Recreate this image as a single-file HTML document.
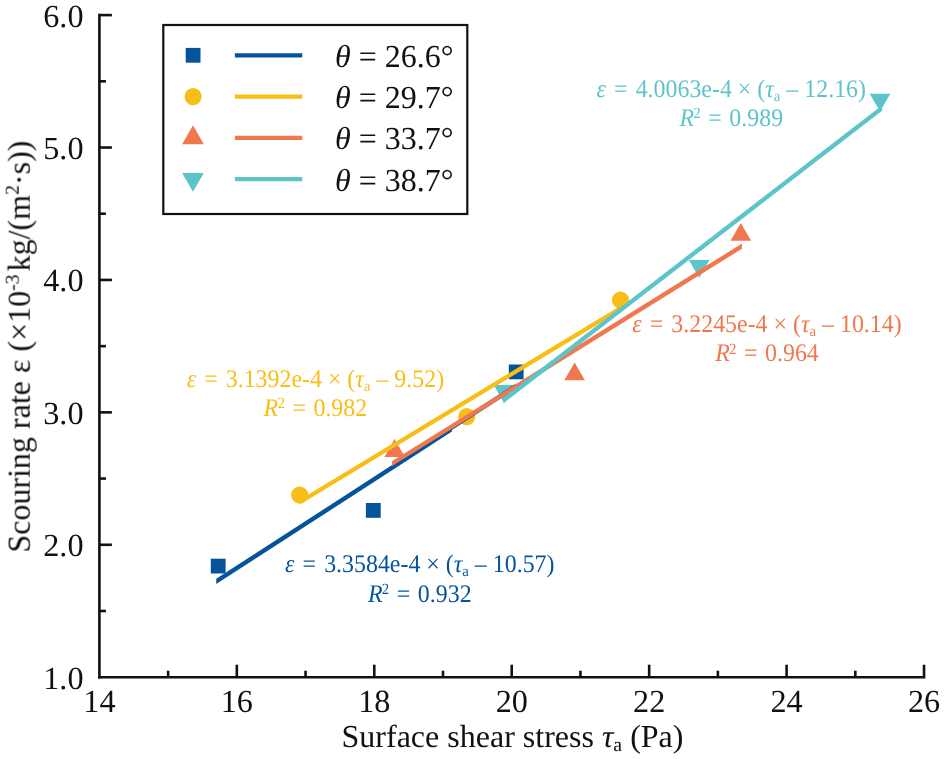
<!DOCTYPE html>
<html><head><meta charset="utf-8"><title>Scouring rate vs surface shear stress</title>
<style>html,body{margin:0;padding:0;background:#fff}svg{display:block}text{font-family:"Liberation Serif",serif;text-rendering:geometricPrecision}.i{font-style:italic}</style></head><body>
<svg width="944" height="759" viewBox="0 0 944 759">
<rect width="944" height="759" fill="#fff"/>
<g style="will-change:transform">
<g stroke="#111" stroke-width="2.6" fill="none" stroke-linecap="butt">
<path d="M99.40 13.80V678.50"/>
<path d="M98.10 677.20H925.34"/>
<path d="M99.40 610.99h6.5"/>
<path d="M99.40 544.78h12.5"/>
<path d="M99.40 478.57h6.5"/>
<path d="M99.40 412.36h12.5"/>
<path d="M99.40 346.15h6.5"/>
<path d="M99.40 279.94h12.5"/>
<path d="M99.40 213.73h6.5"/>
<path d="M99.40 147.52h12.5"/>
<path d="M99.40 81.31h6.5"/>
<path d="M99.40 15.10h12.5"/>
<path d="M168.12 677.20v-6.5"/>
<path d="M236.84 677.20v-12.5"/>
<path d="M305.56 677.20v-6.5"/>
<path d="M374.28 677.20v-12.5"/>
<path d="M443.00 677.20v-6.5"/>
<path d="M511.72 677.20v-12.5"/>
<path d="M580.44 677.20v-6.5"/>
<path d="M649.16 677.20v-12.5"/>
<path d="M717.88 677.20v-6.5"/>
<path d="M786.60 677.20v-12.5"/>
<path d="M855.32 677.20v-6.5"/>
<path d="M924.04 677.20v-12.5"/>
</g>
<g font-size="32.2" fill="#111">
<text x="83.5" y="688.60" text-anchor="end">1.0</text>
<text x="83.5" y="556.18" text-anchor="end">2.0</text>
<text x="83.5" y="423.76" text-anchor="end">3.0</text>
<text x="83.5" y="291.34" text-anchor="end">4.0</text>
<text x="83.5" y="158.92" text-anchor="end">5.0</text>
<text x="83.5" y="26.50" text-anchor="end">6.0</text>
<text x="99.40" y="712.3" text-anchor="middle">14</text>
<text x="236.84" y="712.3" text-anchor="middle">16</text>
<text x="374.28" y="712.3" text-anchor="middle">18</text>
<text x="511.72" y="712.3" text-anchor="middle">20</text>
<text x="649.16" y="712.3" text-anchor="middle">22</text>
<text x="786.60" y="712.3" text-anchor="middle">24</text>
<text x="924.04" y="712.3" text-anchor="middle">26</text>
</g>
<text x="512.5" y="746.5" font-size="32.0" fill="#111" text-anchor="middle">Surface shear stress <tspan class="i">τ</tspan><tspan font-size="19.8" dy="4">a</tspan><tspan dy="-4"> (Pa)</tspan></text>
<text transform="translate(29.7 346.6) rotate(-90)" font-size="32.0" fill="#111" text-anchor="middle">Scouring rate ε (×10<tspan font-size="19.8" dy="-11">-3</tspan><tspan dy="11" dx="3">kg/(m</tspan><tspan font-size="19.8" dy="-11">2</tspan><tspan dy="11">·s))</tspan></text>
<rect x="210.80" y="558.70" width="14.8" height="14.8" fill="#04539b"/>
<rect x="365.90" y="503.00" width="14.8" height="14.8" fill="#04539b"/>
<rect x="508.80" y="364.50" width="14.8" height="14.8" fill="#04539b"/>
<circle cx="299.70" cy="495.00" r="8.6" fill="#f8be17"/>
<circle cx="466.70" cy="416.70" r="8.6" fill="#f8be17"/>
<circle cx="620.50" cy="300.00" r="8.6" fill="#f8be17"/>
<path d="M394.60 439.11L404.90 456.95H384.30Z" fill="#f0784e"/>
<path d="M574.60 362.51L584.90 380.35H564.30Z" fill="#f0784e"/>
<path d="M740.80 222.91L751.10 240.75H730.50Z" fill="#f0784e"/>
<path d="M504.00 402.89L514.30 385.05H493.70Z" fill="#5dc4c9"/>
<path d="M699.20 277.89L709.50 260.05H688.90Z" fill="#5dc4c9"/>
<path d="M880.00 111.49L890.30 93.65H869.70Z" fill="#5dc4c9"/>
<path d="M216.22 578.86L451.93 426.32L451.93 431.56L216.22 584.10Z" fill="#04539b"/>
<path d="M451.93 424.82L515.16 383.91L515.16 389.15L451.93 430.06Z" fill="#04539b"/>
<path d="M300.06 499.44L619.61 306.14L619.61 311.28L300.06 504.58Z" fill="#f8be17"/>
<path d="M392.15 460.92L741.93 243.58L741.93 248.76L392.15 466.10Z" fill="#f0784e"/>
<path d="M503.47 397.58L882.12 105.27L882.12 110.83L503.47 403.14Z" fill="#5dc4c9"/>
<rect x="163.3" y="25" width="304" height="189" fill="none" stroke="#111" stroke-width="2.2"/>
<rect x="185.70" y="47.90" width="14.8" height="14.8" fill="#04539b"/>
<circle cx="193.10" cy="96.60" r="8.55" fill="#f8be17"/>
<path d="M193.00 125.37L203.85 144.16H182.15Z" fill="#f0784e"/>
<path d="M193.00 191.73L203.85 172.94H182.15Z" fill="#5dc4c9"/>
<path d="M234.9 55.3H302.2" stroke="#04539b" stroke-width="4.2"/>
<text x="335" y="66.8" font-size="32" fill="#111"><tspan class="i">θ</tspan> = 26.6°</text>
<path d="M234.9 96.6H302.2" stroke="#f8be17" stroke-width="4.2"/>
<text x="335" y="108.1" font-size="32" fill="#111"><tspan class="i">θ</tspan> = 29.7°</text>
<path d="M234.9 137.9H302.2" stroke="#f0784e" stroke-width="4.2"/>
<text x="335" y="149.4" font-size="32" fill="#111"><tspan class="i">θ</tspan> = 33.7°</text>
<path d="M234.9 179.2H302.2" stroke="#5dc4c9" stroke-width="4.2"/>
<text x="335" y="190.7" font-size="32" fill="#111"><tspan class="i">θ</tspan> = 38.7°</text>
<g font-size="23.9" fill="#f8be17" text-anchor="middle"><text transform="translate(315.4 386.8) scale(1 1.06)"><tspan class="i">ε</tspan><tspan dx="2.1"> =</tspan><tspan dx="2.1"> 3.1392e-4 × (</tspan><tspan class="i">τ</tspan><tspan font-size="14.8" dy="3.9">a</tspan><tspan dy="-3.9"> – 9.52)</tspan></text><text transform="translate(315.4 415.8) scale(1 1.06)"><tspan class="i">R</tspan><tspan font-size="14.8" dy="-7.2" dx="-0.8">2</tspan><tspan dy="7.2" dx="1.6"> =</tspan><tspan dx="1.6"> 0.982</tspan></text></g>
<g font-size="23.9" fill="#04539b" text-anchor="middle"><text transform="translate(419.8 572.2) scale(1 1.06)"><tspan class="i">ε</tspan><tspan dx="2.1"> =</tspan><tspan dx="2.1"> 3.3584e-4 × (</tspan><tspan class="i">τ</tspan><tspan font-size="14.8" dy="3.9">a</tspan><tspan dy="-3.9"> – 10.57)</tspan></text><text transform="translate(419.8 602.0) scale(1 1.06)"><tspan class="i">R</tspan><tspan font-size="14.8" dy="-7.2" dx="-0.8">2</tspan><tspan dy="7.2" dx="1.6"> =</tspan><tspan dx="1.6"> 0.932</tspan></text></g>
<g font-size="23.9" fill="#f0784e" text-anchor="middle"><text transform="translate(767 332.2) scale(1 1.06)"><tspan class="i">ε</tspan><tspan dx="2.1"> =</tspan><tspan dx="2.1"> 3.2245e-4 × (</tspan><tspan class="i">τ</tspan><tspan font-size="14.8" dy="3.9">a</tspan><tspan dy="-3.9"> – 10.14)</tspan></text><text transform="translate(767 361.2) scale(1 1.06)"><tspan class="i">R</tspan><tspan font-size="14.8" dy="-7.2" dx="-0.8">2</tspan><tspan dy="7.2" dx="1.6"> =</tspan><tspan dx="1.6"> 0.964</tspan></text></g>
<g font-size="23.9" fill="#5dc4c9" text-anchor="middle"><text transform="translate(731.3 96.5) scale(1 1.06)"><tspan class="i">ε</tspan><tspan dx="2.1"> =</tspan><tspan dx="2.1"> 4.0063e-4 × (</tspan><tspan class="i">τ</tspan><tspan font-size="14.8" dy="3.9">a</tspan><tspan dy="-3.9"> – 12.16)</tspan></text><text transform="translate(731.3 125.7) scale(1 1.06)"><tspan class="i">R</tspan><tspan font-size="14.8" dy="-7.2" dx="-0.8">2</tspan><tspan dy="7.2" dx="1.6"> =</tspan><tspan dx="1.6"> 0.989</tspan></text></g>
</g></svg></body></html>
